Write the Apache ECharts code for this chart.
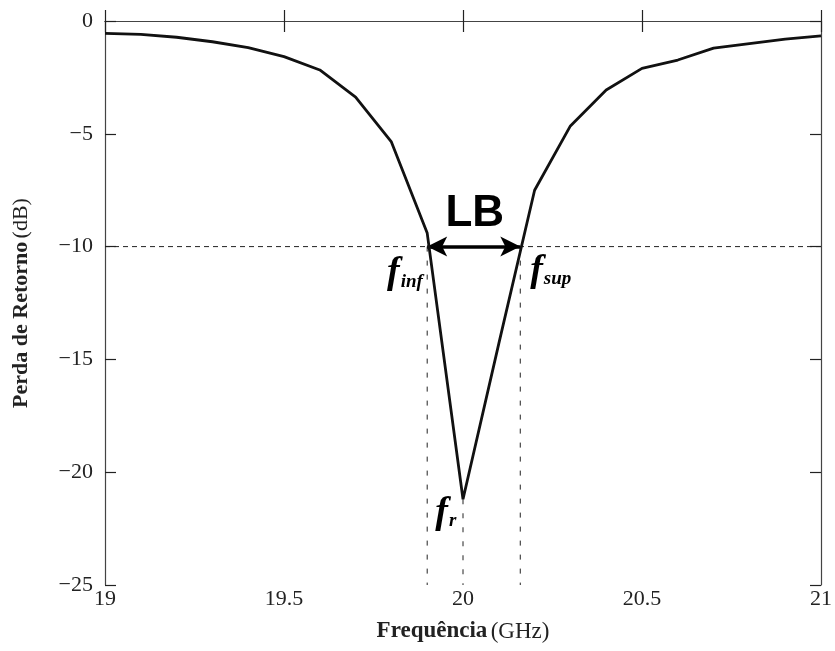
<!DOCTYPE html>
<html lang="pt">
<head>
    <meta charset="UTF-8">
    <title>Perda de Retorno</title>
    <script src="https://cdn.jsdelivr.net/npm/echarts@6/dist/echarts.min.js"></script>
    <style type="text/css">
        html, body { margin: 0; padding: 0; background: #fff; }
        #chart { width: 835px; height: 651px; }
    </style>
</head>
<body>
<div id="chart"></div>
<script type="text/javascript">
    // frequencia (GHz) e perda de retorno (dB)
    var freq = [19.0, 19.1, 19.2, 19.3, 19.4, 19.5, 19.6, 19.7, 19.8, 19.9, 20.0, 20.1, 20.2, 20.3, 20.4, 20.5, 20.6, 20.7, 20.8, 20.9, 21.0];
    var perda = [-0.55, -0.59, -0.72, -0.92, -1.18, -1.58, -2.17, -3.37, -5.36, -9.4, -21.2, -14.3, -7.5, -4.65, -3.06, -2.1, -1.73, -1.2, -1.0, -0.8, -0.66];
    var xTicks = [19, 19.5, 20, 20.5, 21];
    var yTicks = [0, -5, -10, -15, -20, -25];
    var limiar = -10;
    var fInf = 19.9, fSup = 20.16, fR = 20.0, perdaMin = -21.2;

    var chart = echarts.init(document.getElementById('chart'));
    var serif = '"Liberation Serif", "DejaVu Serif", serif';

    function fmtNum(v) {
        return v < 0 ? '\u2212' + Math.abs(v) : String(v);
    }

    var axisCommon = {
        type: 'value',
        axisLine: { show: true, lineStyle: { color: '#444', width: 1.2 } },
        axisTick: { show: true, inside: true, length: 11, lineStyle: { color: '#222', width: 1.2 } },
        splitLine: { show: false }
    };

    function subLabel(main, sub) {
        return {
            show: true,
            position: 'inside',
            formatter: '{f|' + main + '}{s|' + sub + '}',
            rich: {
                f: { fontFamily: serif, fontStyle: 'italic', fontWeight: 'bold', fontSize: 38, color: '#000' },
                s: { fontFamily: serif, fontStyle: 'italic', fontWeight: 'bold', fontSize: 19, color: '#000', padding: [16, 0, 0, 1] }
            }
        };
    }

    var option = {
        animation: false,
        grid: { left: 105, right: 14, top: 21, bottom: 66, outerBoundsMode: 'none', containLabel: false },
        xAxis: [
            Object.assign({}, axisCommon, {
                min: xTicks[0], max: xTicks[xTicks.length - 1], interval: 0.5,
                axisLabel: { fontFamily: serif, fontSize: 22, color: '#222', margin: 3 },
                name: '{b|Frequência} {n|(GHz)}',
                nameLocation: 'middle', nameGap: 35,
                nameTextStyle: {
                    rich: {
                        b: { fontFamily: serif, fontWeight: 'bold', fontSize: 23, color: '#222' },
                        n: { fontFamily: serif, fontSize: 23, color: '#222' }
                    }
                }
            }),
            Object.assign({}, axisCommon, {
                position: 'top', min: 19, max: 21, interval: 0.5,
                axisLabel: { show: false }
            })
        ],
        yAxis: [
            Object.assign({}, axisCommon, {
                min: yTicks[yTicks.length - 1], max: yTicks[0], interval: 5,
                axisLabel: { fontFamily: serif, fontSize: 22, color: '#222', margin: 12, formatter: fmtNum },
                name: '{b|Perda de Retorno} {n|(dB)}',
                nameLocation: 'middle', nameGap: 73, nameRotate: 90,
                nameTextStyle: {
                    rich: {
                        b: { fontFamily: serif, fontWeight: 'bold', fontSize: 22, color: '#222' },
                        n: { fontFamily: serif, fontSize: 22, color: '#222' }
                    }
                }
            }),
            Object.assign({}, axisCommon, {
                position: 'right', min: -25, max: 0, interval: 5,
                axisLabel: { show: false }
            })
        ],
        series: [
            {
                // linha tracejada do limiar -10 dB
                type: 'line',
                data: [[19, limiar], [21, limiar]],
                symbol: 'none',
                lineStyle: { color: '#222', width: 1, type: [5, 4] },
                silent: true
            },
            {
                type: 'line',
                data: [[fInf, limiar], [fInf, -25]],
                symbol: 'none',
                lineStyle: { color: '#222', width: 1, type: [5, 9] }
            },
            {
                type: 'line',
                data: [[fSup, limiar], [fSup, -25]],
                symbol: 'none',
                lineStyle: { color: '#222', width: 1, type: [5, 9] }
            },
            {
                type: 'line',
                data: [[fR, perdaMin], [fR, -25]],
                symbol: 'none',
                lineStyle: { color: '#222', width: 1, type: [5, 9] }
            },
            {
                name: 'S11',
                type: 'line',
                data: freq.map(function (f, i) { return [f, perda[i]]; }),
                symbol: 'none',
                lineStyle: { color: '#111', width: 2.8 },
                z: 5,
                markLine: {
                    silent: true,
                    symbol: ['arrow', 'arrow'],
                    symbolSize: [15, 20],
                    label: { show: false },
                    lineStyle: { color: '#000', width: 3.5, type: 'solid' },
                    data: [[{ coord: [fInf, limiar] }, { coord: [fSup, limiar] }]]
                }
            },
            {
                // rotulos
                type: 'scatter',
                symbolSize: 0,
                itemStyle: { opacity: 1 },
                z: 10,
                data: [
                    { value: [20.033, -8.55], label: { show: true, position: 'inside', formatter: 'LB', fontFamily: '"Liberation Sans", Arial, sans-serif', fontWeight: 'bold', fontSize: 44, color: '#000' } },
                    { value: [19.838, -11.2], label: subLabel('f', 'inf') },
                    { value: [20.245, -11.1], label: subLabel('f', 'sup') },
                    { value: [19.952, -21.8], label: subLabel('f', 'r') }
                ]
            }
        ]
    };
    chart.setOption(option);
</script>
</body>
</html>
